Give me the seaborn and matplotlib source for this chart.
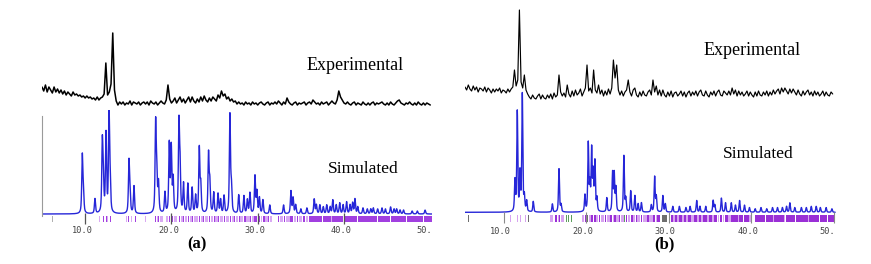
import numpy as np
import pandas as pd
import matplotlib
matplotlib.use("Agg")
import matplotlib.pyplot as plt
import seaborn as sns

sns.set_style("white")
plt.rcParams["font.family"] = ["Liberation Serif", "DejaVu Serif"]
plt.rcParams["text.color"] = "black"

# ---------------- data ----------------
# Panel (a): simulated pattern, peak positions (2theta) and relative intensities (%)
sim_a_pos = [9.67, 9.8, 11.14, 11.99, 12.1, 12.42, 12.77, 12.9, 15.08, 15.2, 15.66,
             18.17, 18.3, 18.5, 19.25, 19.75, 19.98, 20.2, 20.87, 21.0, 21.4, 21.9,
             22.4, 22.8, 23.23, 23.4, 24.3, 24.45, 24.9, 25.4, 25.7, 26.1, 26.78, 26.95,
             27.8, 28.4, 28.8, 29.1, 29.68, 29.9, 30.2, 30.6, 31.4, 33.0, 33.85, 34.1,
             34.4, 35.0, 35.7, 36.55, 36.8, 37.2, 37.6, 38.0, 38.4, 38.7, 39.1, 39.5,
             39.9, 40.3, 40.7, 41.0, 41.27, 41.6, 42.2, 42.7, 43.1, 43.4, 43.9, 44.4,
             44.8, 45.4, 45.8, 46.1, 46.5, 46.9, 47.9, 48.5, 49.4]
sim_a_int = [58, 20, 15, 68, 35, 80, 100, 28, 52, 18, 28,
             90, 38, 30, 21, 70, 66, 34, 90, 45, 30, 30,
             26, 18, 66, 28, 60, 30, 21, 20, 14, 18, 100, 26,
             19, 18, 14, 21, 38, 22, 16, 14, 9, 9, 23, 16,
             9, 5, 6, 15, 9, 9, 7, 9, 7, 14, 9, 11,
             9, 12, 9, 11, 15, 7, 6, 5, 5, 6, 5, 6,
             5, 7, 5, 5, 4, 4, 3, 3, 4]

# Panel (b): simulated pattern
sim_b_pos = [11.36, 11.64, 11.97, 12.25, 12.5, 12.78, 13.58, 15.9, 16.7, 16.95, 19.85,
             20.25, 20.45, 20.66, 20.85, 21.06, 21.3, 22.5, 23.2, 23.4, 23.6, 24.57,
             24.8, 25.4, 25.9, 26.3, 26.7, 27.9, 28.3, 28.5, 29.3, 29.6, 30.5, 31.3,
             32.1, 32.6, 33.4, 33.8, 34.5, 35.4, 35.6, 36.4, 36.9, 37.6, 38.1, 38.6,
             39.2, 39.8, 40.5, 41.2, 41.9, 42.6, 43.2, 43.8, 44.3, 44.7, 45.3, 46.1,
             46.7, 47.3, 47.9, 48.4, 49.1, 49.8]
sim_b_int = [26, 85, 32, 100, 12, 9, 9, 7, 37, 6, 14,
             58, 22, 52, 32, 42, 11, 12, 33, 32, 20, 48,
             11, 18, 14, 7, 8, 6, 30, 13, 14, 7, 5, 5,
             4, 5, 10, 5, 5, 10, 6, 12, 8, 8, 6, 10,
             6, 4, 3, 4, 3, 4, 4, 4, 5, 8, 4, 4,
             4, 5, 5, 4, 4, 3]

# Panel (a): experimental counts, 2theta from 5.0 in steps of 0.2
exp_a_start, exp_a_step = 5.0, 0.2
exp_a = [19, 15, 21, 14, 19, 16, 13, 19, 14, 17,
         13, 16, 12, 15, 11, 14, 12, 10, 14, 11,
         12, 10, 11, 9, 10, 8, 10, 8, 9, 7,
         8, 6, 9, 6, 8, 9, 12, 43, 11, 14,
         22, 73, 16, 5, 1, 4, 2, 4, 1, 3,
         2, 5, 1, 4, 3, 2, 4, 1, 3, 4,
         2, 4, 1, 5, 3, 2, 4, 1, 3, 5,
         3, 2, 6, 21, 7, 3, 5, 8, 3, 6,
         9, 4, 7, 3, 6, 9, 4, 9, 5, 3,
         7, 4, 9, 5, 10, 6, 4, 8, 5, 9,
         7, 5, 11, 8, 15, 10, 12, 7, 9, 5,
         7, 4, 5, 2, 4, 2, 3, 1, 4, 2,
         3, 1, 4, 2, 3, 1, 3, 4, 2, 1,
         3, 4, 1, 3, 2, 4, 2, 5, 3, 1,
         4, 2, 8, 4, 2, 1, 3, 4, 1, 3,
         2, 3, 4, 1, 3, 4, 2, 6, 4, 2,
         3, 1, 4, 2, 3, 4, 1, 3, 5, 3,
         2, 6, 15, 9, 6, 3, 2, 4, 2, 1,
         3, 4, 1, 3, 2, 1, 4, 2, 1, 3,
         1, 3, 4, 1, 3, 2, 3, 4, 2, 1,
         3, 1, 4, 2, 1, 3, 5, 6, 3, 2,
         1, 3, 2, 4, 2, 1, 3, 1, 4, 2,
         1, 3, 1, 3, 2, 1]

# Panel (b): experimental counts, 2theta from 5.3 in steps of 0.2
exp_b_start, exp_b_step = 5.3, 0.2
exp_b = [13, 10, 15, 11, 9, 14, 10, 13, 8, 12,
         11, 9, 13, 8, 12, 10, 7, 11, 8, 11,
         9, 12, 7, 10, 9, 7, 11, 8, 11, 13,
         30, 14, 20, 90, 18, 12, 25, 10, 6, 3,
         1, 5, 2, 1, 4, 6, 1, 5, 2, 1,
         5, 2, 6, 1, 7, 3, 5, 25, 8, 4,
         7, 3, 15, 6, 3, 9, 4, 10, 5, 7,
         11, 4, 8, 12, 35, 9, 12, 7, 30, 10,
         7, 15, 6, 10, 4, 9, 5, 11, 6, 12,
         40, 22, 35, 10, 5, 9, 4, 8, 10, 20,
         8, 4, 10, 12, 5, 3, 8, 4, 9, 5,
         4, 8, 10, 5, 20, 8, 14, 5, 10, 4,
         10, 5, 3, 8, 4, 9, 3, 7, 8, 4,
         6, 9, 4, 8, 3, 7, 9, 4, 8, 5,
         9, 4, 8, 10, 5, 4, 9, 5, 3, 8,
         5, 9, 4, 8, 10, 5, 4, 9, 7, 5,
         9, 5, 12, 6, 10, 4, 9, 5, 8, 4,
         6, 9, 4, 8, 5, 3, 8, 4, 9, 5,
         4, 8, 5, 9, 4, 8, 5, 10, 6, 9,
         11, 6, 12, 8, 12, 9, 6, 11, 7, 11,
         8, 5, 10, 6, 4, 9, 5, 8, 10, 5,
         8, 4, 9, 5, 8, 4, 6, 9, 4, 8,
         5, 4, 8, 6]

# Reflection marker strips: (start, width)
strip_a_dark = [(11.1, 0.1), (12.1, 0.08), (12.4, 0.08), (12.85, 0.1), (15.0, 0.1), (15.75, 0.1),
                (18.1, 0.12), (18.45, 0.1), (19.2, 0.1), (19.7, 0.15), (20.1, 0.1), (20.85, 0.15),
                (21.35, 0.1), (21.9, 0.1), (22.4, 0.1), (23.2, 0.15), (23.7, 0.1), (24.3, 0.15),
                (24.9, 0.1), (25.4, 0.1), (26.1, 0.1), (26.75, 0.15), (27.3, 0.1), (27.8, 0.1),
                (28.4, 0.2), (29.1, 0.15), (29.6, 0.3), (30.1, 0.2), (30.6, 0.2), (31.2, 0.15),
                (32.3, 0.2), (33.0, 0.2), (33.8, 0.3), (34.5, 0.2), (35.2, 0.3), (35.9, 1.6),
                (37.6, 0.9), (38.6, 1.3), (40.0, 1.5), (41.6, 2.2), (43.9, 1.4), (45.4, 1.8),
                (47.3, 1.0), (48.4, 0.8), (49.3, 0.9)]
strip_a_light = [(11.65, 0.1), (12.55, 0.08), (14.7, 0.1), (15.3, 0.1), (16.9, 0.1),
                 (18.3, 0.1), (18.7, 0.3), (19.4, 0.2), (19.95, 0.1), (20.3, 0.4), (21.1, 0.2),
                 (21.55, 0.3), (22.1, 0.25), (22.6, 0.5), (23.45, 0.2), (23.9, 0.35),
                 (24.55, 0.3), (25.05, 0.3), (25.6, 0.4), (26.3, 0.4), (27.0, 0.25),
                 (27.5, 0.25), (28.0, 0.35), (28.7, 0.35), (29.35, 0.2), (30.35, 0.2),
                 (30.85, 0.3), (31.45, 0.2), (32.6, 0.3), (33.3, 0.4), (34.2, 0.25),
                 (34.8, 0.35), (35.55, 0.3), (37.55, 0.05), (38.55, 0.05), (39.95, 0.05)]
strip_a_gray = [(6.2, 0.06)]

strip_b_purple = [(16.25, 0.25), (16.7, 0.15), (19.9, 0.15), (20.6, 0.25), (21.0, 0.15),
                  (21.5, 0.2), (22.3, 0.15), (22.9, 0.25), (23.4, 0.2), (24.0, 0.15),
                  (24.8, 0.2), (25.4, 0.25), (26.0, 0.15), (26.6, 0.2), (27.4, 0.2),
                  (28.1, 0.3), (28.6, 0.3), (30.3, 0.2), (30.8, 0.2), (31.3, 0.3),
                  (31.9, 0.2), (32.4, 0.3), (33.1, 0.3), (33.7, 0.2), (34.2, 0.4),
                  (34.9, 0.3), (35.5, 0.4), (36.2, 0.3), (36.8, 0.4), (37.6, 0.8),
                  (38.5, 0.5), (39.1, 0.6), (40.5, 1.2), (41.8, 0.8), (42.8, 1.3),
                  (44.2, 1.1), (45.5, 1.4), (47.0, 1.2), (48.3, 0.9), (49.3, 0.8)]
strip_b_light = [(10.8, 0.08), (11.2, 0.08), (11.6, 0.08), (12.0, 0.08), (12.3, 0.08),
                 (12.55, 0.1), (15.6, 0.4), (16.55, 0.1), (17.0, 0.3), (19.5, 0.2),
                 (20.3, 0.25), (20.9, 0.08), (21.25, 0.2), (21.8, 0.4), (22.5, 0.35),
                 (23.2, 0.15), (23.65, 0.3), (24.2, 0.5), (25.05, 0.3), (25.7, 0.25),
                 (26.2, 0.35), (26.85, 0.5), (27.65, 0.4), (28.45, 0.1), (30.55, 0.2),
                 (31.05, 0.2), (31.65, 0.2), (32.15, 0.2), (32.75, 0.3), (33.45, 0.2),
                 (33.95, 0.2), (34.65, 0.2), (35.25, 0.2), (35.95, 0.2), (36.55, 0.2),
                 (37.25, 0.3), (38.45, 0.05), (39.75, 0.2), (42.65, 0.1), (44.05, 0.1),
                 (46.95, 0.05), (48.2, 0.05)]
strip_b_gray = [(5.65, 0.1), (12.95, 0.12), (13.15, 0.08), (20.15, 0.1), (29.2, 0.3),
                (29.6, 0.15), (30.0, 0.1)]
strip_b_green = [(8.05, 0.06), (8.3, 0.06), (17.6, 0.1), (17.85, 0.1), (18.15, 0.1),
                 (18.4, 0.06), (24.6, 0.06), (27.2, 0.06)]

tick_vals = [10, 20, 30, 40, 50]
tick_labels = ["10.0", "20.0", "30.0", "40.0", "50."]
panel_labels = ["(a)", "(b)"]

# ---------------- helpers ----------------
W, H = 871, 264
fig = plt.figure(figsize=(W / 100, H / 100), dpi=100)
fig.patch.set_facecolor("white")


def px_axes(x0, y0, x1, y1):
    ax = fig.add_axes([x0 / W, 1 - y1 / H, (x1 - x0) / W, (y1 - y0) / H])
    ax.set_facecolor("none")
    return ax


def profile(x, pos, inten, fwhm, eta=0.6):
    y = np.zeros_like(x)
    for c, h in zip(pos, inten):
        d2 = 4 * (x - c) ** 2 / fwhm ** 2
        y += h * (eta / (1 + d2) + (1 - eta) * np.exp(-np.log(2) * d2))
    return y


def off(ax):
    for s in ax.spines.values():
        s.set_visible(False)
    ax.set_xticks([])
    ax.set_yticks([])


BLUE = "#2626d8"
PURPLE = "#a13fe0"
LIGHT = "#d9a9f3"

# ---------------- panel (a) ----------------
ax_ea = px_axes(42, 20, 432, 110)
xa = exp_a_start + exp_a_step * np.arange(len(exp_a))
sns.lineplot(x=xa, y=exp_a, ax=ax_ea, color="black", lw=1.1, estimator=None, sort=False)
ax_ea.set_xlim(5, 50.2)
ax_ea.set_ylim(-4, 86)
off(ax_ea)

ax_sa = px_axes(42, 110, 432, 226)
xs = np.linspace(5, 50.2, 5000)
ya = profile(xs, sim_a_pos, sim_a_int, 0.15)
sns.lineplot(x=xs, y=ya, ax=ax_sa, color=BLUE, lw=1.0, estimator=None, sort=False)
ax_sa.set_xlim(5, 50.2)
ax_sa.set_ylim(-12.2, 106.1)
off(ax_sa)
ax_sa.spines["left"].set_visible(True)
ax_sa.spines["left"].set_color("#9a9a9a")
ax_sa.spines["left"].set_linewidth(0.8)
ax_sa.spines["left"].set_bounds(-2, 100)
ax_sa.broken_barh(strip_a_dark, (-8.6, 6.8), facecolors=PURPLE, edgecolor="none")
ax_sa.broken_barh(strip_a_light, (-8.6, 6.8), facecolors=LIGHT, edgecolor="none")
ax_sa.broken_barh(strip_a_gray, (-8.6, 6.8), facecolors="#b0b0b0", edgecolor="none")
ax_sa.vlines(tick_vals[:4], -10, 1, color="#555555", lw=0.9)

# ---------------- panel (b) ----------------
ax_eb = px_axes(465, 0, 836, 105)
xb = exp_b_start + exp_b_step * np.arange(len(exp_b))
sns.lineplot(x=xb, y=exp_b, ax=ax_eb, color="black", lw=0.85, estimator=None, sort=False)
ax_eb.set_xlim(5.3, 50.3)
ax_eb.set_ylim(-5, 100)
off(ax_eb)

ax_sb = px_axes(465, 90, 836, 226)
xs_b = np.linspace(5.3, 50.2, 5000)
yb = profile(xs_b, sim_b_pos, sim_b_int, 0.14)
sns.lineplot(x=xs_b, y=yb, ax=ax_sb, color=BLUE, lw=1.0, estimator=None, sort=False)
ax_sb.set_xlim(5.3, 50.3)
ax_sb.set_ylim(-11.7, 104.6)
off(ax_sb)
ax_sb.broken_barh(strip_b_purple, (-8.6, 6.3), facecolors="#9a2fd6", edgecolor="none")
ax_sb.broken_barh(strip_b_light, (-8.6, 6.3), facecolors="#d7a3f0", edgecolor="none")
ax_sb.broken_barh(strip_b_gray, (-8.6, 6.3), facecolors="#6e6e6e", edgecolor="none")
ax_sb.broken_barh(strip_b_green, (-8.6, 6.3), facecolors="#5c9e5c", edgecolor="none")
ax_sb.vlines(tick_vals, -9.5, 0, color="#8a8a8a", lw=0.8)

# tick labels
for ax, dx in ((ax_sa, -0.35), (ax_sb, -0.4)):
    for v, lab in zip(tick_vals, tick_labels):
        ax.text(v + dx if lab != "50." else v - 0.7, -16.5, lab, ha="center", va="center",
                fontsize=6.2, family="DejaVu Sans Mono", color="#444444", clip_on=False)

# ---------------- texts ----------------
def ftext(x, y, s, **kw):
    fig.text(x / W, 1 - y / H, s, color="black", **kw)

ftext(355, 70, "Experimental", ha="center", va="baseline", fontsize=13)
ftext(363, 173, "Simulated", ha="center", va="baseline", fontsize=12.5)
ftext(752, 55, "Experimental", ha="center", va="baseline", fontsize=13)
ftext(758, 158, "Simulated", ha="center", va="baseline", fontsize=12.5)
ftext(197, 248, panel_labels[0], ha="center", va="baseline", fontsize=12, fontweight="bold")
ftext(664, 248, panel_labels[1], ha="center", va="baseline", fontsize=12, fontweight="bold")

fig.savefig("out.png", dpi=100, facecolor="white")
